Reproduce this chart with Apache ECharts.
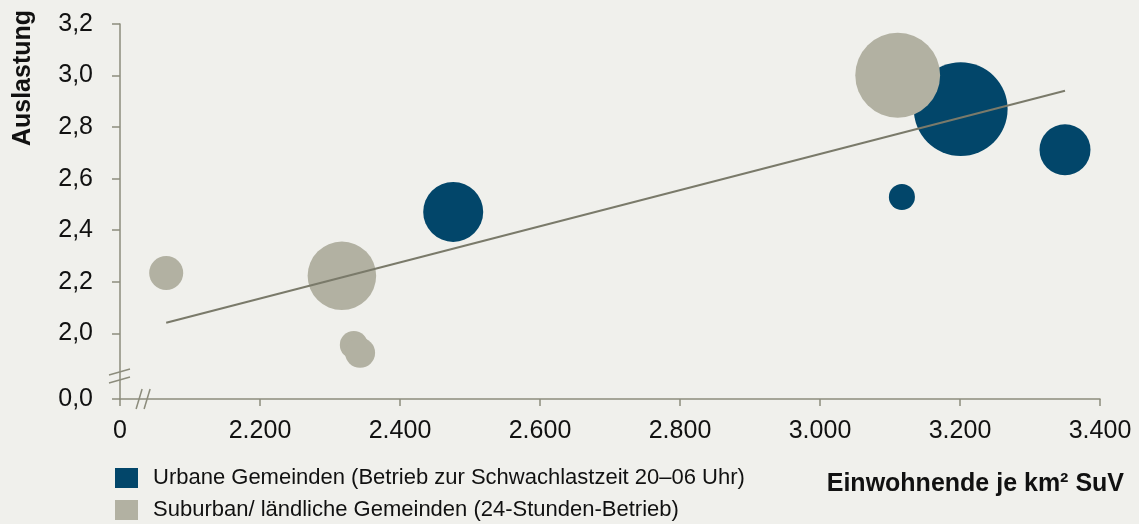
<!DOCTYPE html>
<html>
<head>
<meta charset="utf-8">
<script src="https://cdn.jsdelivr.net/npm/echarts@6/dist/echarts.min.js"></script>
<style>
html,body{margin:0;padding:0;background:#f0f0ec;}
#chart{width:1139px;height:524px;}
</style>
</head>
<body>
<div id="chart"></div>
<script>
// ---- data ----
const seriesNames = ['Urbane Gemeinden (Betrieb zur Schwachlastzeit 20–06 Uhr)', 'Suburban/ ländliche Gemeinden (24-Stunden-Betrieb)'];
const urbanX = [2476, 3201, 3117, 3350];
const urbanY = [2.471, 2.870, 2.529, 2.712];
const urbanSize = [36, 88, 6.8, 26];
const suburbX = [3111, 2066, 2317, 2334, 2343];
const suburbY = [3.001, 2.234, 2.223, 1.955, 1.924];
const suburbSize = [72, 11.6, 47, 7.8, 9];
const trendX = [2066, 3350];
const trendY = [2.041, 2.941];
const yTickValues = [1.745, 2.0, 2.2, 2.4, 2.6, 2.8, 3.0, 3.2];
const xMin = 2000, xMax = 3400, xStep = 200;
const yMin = 1.745, yMax = 3.2;
const xBreakAt = 2033, yBreakAt = 1.834;

const FONT = '"Liberation Sans", Arial, sans-serif';
const AXIS = '#8c8c7c';

const chart = echarts.init(document.getElementById('chart'));
const zip = (xs, ys, ss) => xs.map((x, i) => ss ? [x, ys[i], ss[i]] : [x, ys[i]]);

chart.setOption({
  backgroundColor: '#f0f0ec',
  animation: false,
  grid: {left: 120, right: 39, top: 24, bottom: 125},
  legend: {
    orient: 'vertical', left: 115, top: 467, padding: 0,
    itemWidth: 23, itemHeight: 20, itemGap: 10,
    icon: 'rect', data: seriesNames,
    textStyle: {fontFamily: FONT, fontSize: 22, color: '#111', padding: [2, 0, 0, 10]}
  },
  xAxis: {
    type: 'value', min: xMin, max: xMax, interval: xStep,
    splitLine: {show: false},
    axisLine: {lineStyle: {color: AXIS, width: 1.5}},
    axisTick: {show: true, length: 7, lineStyle: {color: AXIS, width: 1.5}},
    axisLabel: {
      margin: 20, fontFamily: FONT, fontSize: 25, color: '#111',
      formatter: v => v === xMin ? '0' : (v / 1000).toFixed(3)
    }
  },
  yAxis: {
    type: 'value', min: yMin, max: yMax,
    splitLine: {show: false},
    axisLine: {show: true, lineStyle: {color: AXIS, width: 1.5}},
    axisTick: {show: true, length: 8, customValues: yTickValues, lineStyle: {color: AXIS, width: 1.5}},
    axisLabel: {
      margin: 27, fontFamily: FONT, fontSize: 25, color: '#111',
      customValues: yTickValues,
      formatter: v => v < 1.9 ? '0,0' : v.toFixed(1).replace('.', ',')
    }
  },
  series: [
    {
      name: seriesNames[0], type: 'scatter',
      data: zip(urbanX, urbanY, urbanSize),
      symbolSize: d => Math.sqrt(d[2]) * 10,
      itemStyle: {color: '#02466a', opacity: 1}
    },
    {
      name: seriesNames[1], type: 'scatter',
      data: zip(suburbX, suburbY, suburbSize),
      symbolSize: d => Math.sqrt(d[2]) * 10,
      itemStyle: {color: '#b2b1a2', opacity: 1}
    },
    {
      name: 'Trend', type: 'line', data: zip(trendX, trendY),
      symbol: 'none', z: 5,
      lineStyle: {color: '#7a7a6a', width: 2}
    }
  ]
});

// axis titles and break marks
const py = chart.convertToPixel({gridIndex: 0}, [xMin, yBreakAt]);
const px = chart.convertToPixel({gridIndex: 0}, [xBreakAt, yMin]);
const brk = [];
[-4, 4].forEach(o => {
  brk.push({type: 'line', shape: {x1: py[0] - 11, y1: py[1] + o + 3, x2: py[0] + 10, y2: py[1] + o - 3},
    style: {stroke: AXIS, lineWidth: 1.5}, z: 10});
  brk.push({type: 'line', shape: {x1: px[0] + o - 3, y1: px[1] + 10, x2: px[0] + o + 3, y2: px[1] - 10},
    style: {stroke: AXIS, lineWidth: 1.5}, z: 10});
});
chart.setOption({
  graphic: brk.concat([
    {type: 'text', x: 23, y: 78, rotation: Math.PI / 2,
      style: {text: 'Auslastung', font: 'bold 25px ' + FONT, fill: '#111', align: 'center', verticalAlign: 'middle'}},
    {type: 'text', x: 1124, y: 484,
      style: {text: 'Einwohnende je km² SuV', font: 'bold 25px ' + FONT, fill: '#111', align: 'right', verticalAlign: 'middle'}}
  ])
});
</script>
</body>
</html>
